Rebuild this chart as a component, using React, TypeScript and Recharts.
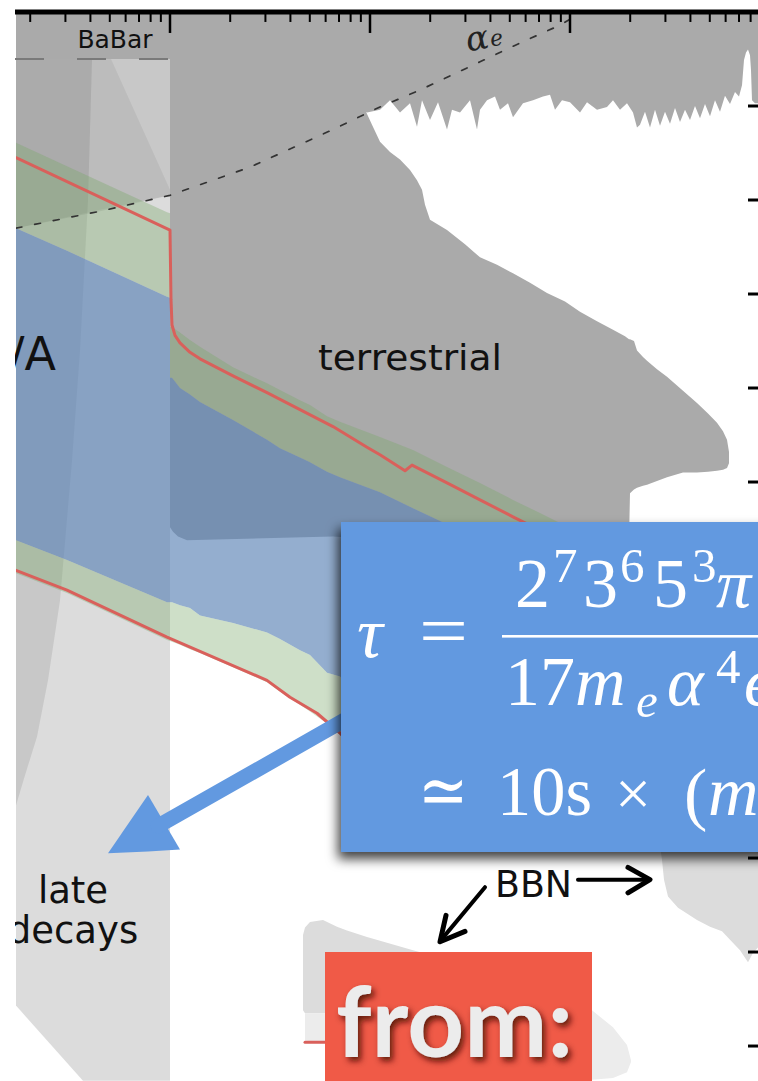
import React from "react";
import { ComposedChart, XAxis, YAxis, Area, Line, ReferenceLine } from "recharts";

// x = log10(m / keV), y = log10(eps)
const X_DOMAIN: [number, number] = [0.23, 3.95];
const Y_DOMAIN: [number, number] = [-18.372, -7];

const X_DECADES = [0, 1, 2, 3];
const X_MINOR_DIGITS = [2, 3, 4, 5, 6, 7, 8, 9];
const Y_TICKS = [-8, -9, -10, -11, -12, -13, -14, -15, -16, -17, -18];

// terrestrial limits: upper band, lower edge [x, y]
const TERR_EDGE: [number, number][] = [
  [0.23, -7.5], [1.0, -7.5], [1.95, -8.04], [1.985, -8.07], [2.05, -8.04], [2.1, -7.94],
  [2.15, -8.07], [2.2, -7.97], [2.235, -8.22], [2.26, -7.94], [2.3, -8.15], [2.34, -7.96],
  [2.385, -8.25], [2.41, -8.04], [2.45, -8.07], [2.5, -7.94], [2.535, -8.25], [2.55, -8.04],
  [2.585, -7.94], [2.625, -7.9], [2.65, -8.04], [2.69, -7.97], [2.715, -8.12], [2.765, -7.97],
  [2.815, -7.94], [2.865, -7.9], [2.9, -7.88], [2.925, -8.04], [2.96, -7.94], [3.0, -7.96],
  [3.05, -8.07], [3.085, -7.96], [3.135, -8.04], [3.185, -8.01], [3.215, -7.94], [3.25, -8.04],
  [3.285, -7.97], [3.315, -8.07], [3.335, -8.23], [3.35, -8.2], [3.375, -8.06], [3.4, -8.23],
  [3.425, -8.04], [3.45, -8.21], [3.475, -8.06], [3.5, -8.19], [3.525, -8.02], [3.55, -8.17],
  [3.575, -8.04], [3.6, -8.15], [3.625, -8.0], [3.65, -8.13], [3.675, -7.98], [3.7, -8.11],
  [3.725, -7.94], [3.75, -8.06], [3.775, -7.89], [3.8, -7.98], [3.825, -7.85], [3.845, -7.9],
  [3.86, -7.78], [3.87, -7.51], [3.88, -7.43], [3.89, -7.4], [3.9, -7.46], [3.905, -7.62],
  [3.91, -7.94], [3.925, -7.97], [3.95, -7.97],
];

// terrestrial limits: main blob [x, top, bottom]
const TERR_BLOB: number[][] = [
  [1.0, -7, -12.48], [1.015, -7, -12.53], [1.04, -7, -12.58], [1.085, -7, -12.62],
  [1.815, -7, -12.58], [1.98, -7, -12.6], [1.98, -8.06, -12.6], [2.01, -8.2, -12.6],
  [2.05, -8.38, -12.61], [2.1, -8.49, -12.61], [2.15, -8.57, -12.62], [2.2, -8.68, -12.62],
  [2.235, -8.79, -12.62], [2.26, -8.89, -12.62], [2.275, -9.05, -12.62], [2.3, -9.21, -12.62],
  [2.385, -9.32, -12.62], [2.475, -9.47, -12.62], [2.55, -9.61, -12.62], [2.635, -9.69, -12.62],
  [2.715, -9.78, -12.62], [2.8, -9.88, -12.62], [2.885, -9.99, -12.62], [2.975, -10.08, -12.62],
  [3.05, -10.19, -12.62], [3.135, -10.29, -12.62], [3.215, -10.38, -12.62], [3.275, -10.45, -12.62],
  [3.295, -10.48, -12.62], [3.3, -10.48, -12.12], [3.32, -10.5, -12.08], [3.335, -10.6, -12.06],
  [3.365, -10.67, -12.04], [3.385, -10.71, -12.03], [3.435, -10.8, -11.99], [3.485, -10.88, -11.95],
  [3.565, -11.03, -11.9], [3.635, -11.16, -11.9], [3.69, -11.27, -11.89], [3.735, -11.37, -11.88],
  [3.765, -11.46, -11.87], [3.785, -11.55, -11.85], [3.795, -11.68, -11.8],
];

// late decays / cooling regions on the left [x, top, bottom]
const LATE_DECAY: number[][] = [[0.23, -7, -17.57], [0.565, -7, -18.37], [1.0, -7, -18.37]];
const LATE_DECAY_INNER: number[][] = [
  [0.23, -7.5, -15.44], [0.275, -7.5, -15.12], [0.335, -7.5, -14.71], [0.39, -7.5, -14.11],
  [0.45, -7.5, -13.26], [0.51, -7.5, -11.77], [0.55, -7.5, -10.6], [0.59, -7.5, -9.0],
  [0.6, -7.5, -8.25], [0.61, -7.5, -7.5],
];
const AE_SHADE: number[][] = [[0.23, -7.5, -9.3], [0.65, -7.5, -9.12], [1.0, -7.5, -8.95]];
const AE_SHADE_2: number[][] = [[0.23, -7.5, -9.3], [0.705, -7.5, -9.08], [1.0, -8.89, -8.95]];

// stellar/relic contours [x, greenTop, blueTop, blueBottom, greenBottom]
const CONTOUR: number[][] = [
  [0.23, -8.39, -9.3, -12.62, -12.97],
  [0.485, -8.64, -9.54, -12.83, -13.18],
  [0.985, -9.13, -10.03, -13.28, -13.68],
  [1.0, -9.14, -10.04, -13.28, -13.69],
  [1.0, -10.35, -10.89, -13.28, -13.69],
  [1.01, -10.35, -10.89, -13.28, -13.7],
  [1.05, -10.41, -11.0, -13.31, -13.73],
  [1.1, -10.49, -11.07, -13.34, -13.78],
  [1.15, -10.56, -11.15, -13.42, -13.82],
  [1.315, -10.78, -11.34, -13.5, -13.97],
  [1.485, -10.95, -11.55, -13.6, -14.13],
  [1.55, -11.02, -11.64, -13.67, -14.23],
  [1.65, -11.13, -11.74, -13.79, -14.37],
  [1.7, -11.18, -11.79, -13.84, -14.44],
  [1.785, -11.3, -11.89, -14.03, -14.57],
  [1.85, -11.36, -11.95, -14.07, -14.69],
  [2.05, -11.52, -12.11, -14.53, -15.17],
  [2.215, -11.66, -12.28, -14.85, -15.49],
  [2.385, -11.84, -12.45, -15.17, -15.81],
];
const CONTOUR_TAIL: number[][] = [
  [2.55, -12.01, -12.62], [2.715, -12.19, -12.78], [2.85, -12.33, -12.94], [3.0, -12.49, -13.1],
];

const RED_UPPER: [number, number][] = [
  [0.23, -8.55], [1.0, -9.32], [1.005, -10.06], [1.01, -10.33], [1.025, -10.44], [1.05, -10.52],
  [1.1, -10.62], [1.15, -10.69], [1.315, -10.87], [1.485, -11.05], [1.65, -11.23], [1.815, -11.41],
  [1.985, -11.63], [2.05, -11.71], [2.175, -11.88], [2.21, -11.82], [2.385, -12.01], [2.55, -12.19],
  [2.715, -12.37], [2.875, -12.54],
];
const RED_LOWER: [number, number][] = [
  [0.23, -12.94], [0.485, -13.15], [0.985, -13.65], [1.485, -14.11], [1.6, -14.29],
  [1.735, -14.46], [1.85, -14.67], [2.05, -15.12],
];
const RED_STUB: [number, number][] = [[1.675, -17.96], [1.825, -17.96]];

const ALPHA_E: [number, number][] = [
  [0.23, -9.3], [0.65, -9.12], [1.0, -8.95], [1.4, -8.65], [1.815, -8.25], [2.05, -8.01],
  [2.25, -7.83], [2.55, -7.53], [2.75, -7.33], [2.95, -7.14], [3.06, -7.0],
];

// BBN regions [x, top, bottom]
const BBN_RIGHT: number[][] = [
  [3.45, -15.86, -15.87], [3.46, -15.86, -16.02], [3.47, -15.86, -16.23], [3.49, -15.86, -16.41],
  [3.54, -15.86, -16.53], [3.635, -15.86, -16.66], [3.7, -15.86, -16.73], [3.76, -15.86, -16.78],
  [3.8, -15.86, -16.87], [3.85, -15.86, -16.98], [3.89, -15.86, -17.11], [3.915, -15.86, -17.01],
  [3.95, -15.86, -16.93],
];
const BBN_LOW: number[][] = [
  [1.665, -16.82, -17.62], [1.675, -16.74, -17.65], [1.7, -16.68, -17.65], [1.765, -16.66, -17.65],
  [1.835, -16.73, -17.65], [1.885, -16.77, -17.65], [1.985, -16.84, -17.65], [2.085, -16.9, -17.65],
  [2.215, -16.98, -17.65], [2.4, -17.09, -17.65], [3.1, -17.51, -17.65],
];
const BBN_LOW_FAINT: number[][] = [
  [1.675, -17.65, -17.94], [1.85, -17.65, -17.99], [2.95, -17.62, -18.34], [3.11, -17.62, -18.36],
  [3.215, -17.8, -18.34], [3.285, -17.99, -18.28], [3.305, -18.15, -18.17],
];

// annotation arrows
const TAU_ARROW: [number, number][] = [[1.875, -14.53], [0.94, -15.66]];
const TAU_HEAD: number[][] = [[0.69, -15.95, -15.95], [0.89, -15.33, -15.93], [1.05, -15.91, -15.91]];
const BBN_ARROW_R: [number, number][] = [[3.04, -16.23], [3.38, -16.23]];
const BBN_HEAD_R: [number, number][] = [[3.29, -16.1], [3.4, -16.23], [3.29, -16.37]];
const BBN_ARROW_L: [number, number][] = [[2.575, -16.31], [2.36, -16.86]];
const BBN_HEAD_L: [number, number][] = [[2.38, -16.61], [2.35, -16.89], [2.475, -16.78]];

const band = (rows: number[][], a: number, b: number) =>
  rows.map((r) => ({ x: r[0], r: [r[a], r[b]] }));
const pts = (rows: number[][]) => rows.map(([x, y]) => ({ x, y }));

const GRAY = "#aaaaaa";
const LIGHT = "#dcdcdc";
const GREEN = "rgba(123,167,107,0.37)";
const BLUE = "rgba(90,130,182,0.65)";
const RED = "#d9605b";
const ARROW_BLUE = "#6299e0";

const fillArea = (rows: number[][], a: number, b: number, fill: string) => (
  <Area
    data={band(rows, a, b)}
    dataKey="r"
    type="linear"
    stroke="none"
    fill={fill}
    fillOpacity={1}
    isAnimationActive={false}
    activeDot={false}
  />
);

const line = (rows: [number, number][], stroke: string, width: number, dash?: string) => (
  <Line
    data={pts(rows)}
    dataKey="y"
    type="linear"
    stroke={stroke}
    strokeWidth={width}
    strokeDasharray={dash}
    strokeLinecap="round"
    strokeLinejoin="round"
    dot={false}
    activeDot={false}
    isAnimationActive={false}
  />
);

const minorTicks = X_DECADES.flatMap((d) => X_MINOR_DIGITS.map((k) => d + Math.log10(k))).filter(
  (v) => v > X_DOMAIN[0] && v < X_DOMAIN[1]
);

export default function App() {
  return (
    <div style={{ position: "absolute", left: 0, top: 0, width: 758, height: 1081, overflow: "hidden", background: "#fff" }}>
      <ComposedChart width={760} height={1081} margin={{ top: 12, right: 0, bottom: 0, left: 16 }}>
        <XAxis type="number" dataKey="x" domain={X_DOMAIN} hide allowDataOverflow />
        <YAxis type="number" domain={Y_DOMAIN} hide allowDataOverflow />

        {fillArea(LATE_DECAY, 1, 2, LIGHT)}
        {fillArea(LATE_DECAY_INNER, 1, 2, "rgba(0,0,0,0.09)")}
        {fillArea(AE_SHADE, 1, 2, "rgba(0,0,0,0.09)")}
        {fillArea(AE_SHADE_2, 1, 2, "rgba(0,0,0,0.06)")}

        <Area
          data={TERR_EDGE.map(([x, y]) => ({ x, r: [-7, y] }))}
          dataKey="r"
          type="linear"
          stroke="none"
          fill={GRAY}
          fillOpacity={1}
          isAnimationActive={false}
          activeDot={false}
        />
        {fillArea(TERR_BLOB, 1, 2, GRAY)}

        {fillArea(BBN_LOW, 1, 2, LIGHT)}
        {fillArea(BBN_LOW_FAINT, 1, 2, "#ececec")}
        {fillArea(BBN_RIGHT, 1, 2, LIGHT)}

        {fillArea([...CONTOUR, ...CONTOUR_TAIL], 1, 2, GREEN)}
        {fillArea(CONTOUR, 2, 3, BLUE)}
        {fillArea(CONTOUR, 3, 4, GREEN)}

        <ReferenceLine
          segment={[{ x: 0.225, y: -7.5 }, { x: 1.0, y: -7.5 }]}
          stroke="#7a7a7a"
          strokeWidth={2}
          strokeDasharray="29 33"
          ifOverflow="visible"
        />
        {line(ALPHA_E, "#333", 1.7, "6 13")}

        {line(RED_UPPER, RED, 3)}
        {line(RED_LOWER, RED, 3)}
        {line(RED_STUB, RED, 3)}

        {line(TAU_ARROW, ARROW_BLUE, 15)}
        {fillArea(TAU_HEAD, 1, 2, ARROW_BLUE)}
        {line(BBN_ARROW_R, "#000", 4)}
        {line(BBN_HEAD_R, "#000", 5)}
        {line(BBN_ARROW_L, "#000", 4)}
        {line(BBN_HEAD_L, "#000", 5)}

        <ReferenceLine
          segment={[{ x: 0.225, y: -7 }, { x: 3.95, y: -7 }]}
          stroke="#000"
          strokeWidth={5}
          ifOverflow="visible"
        />
        {minorTicks.map((v) => (
          <ReferenceLine
            key={`mi${v}`}
            segment={[{ x: v, y: -7 }, { x: v, y: -7.106 }]}
            stroke="#000"
            strokeWidth={2}
            ifOverflow="visible"
          />
        ))}
        {X_DECADES.filter((d) => d > X_DOMAIN[0]).map((d) => (
          <ReferenceLine
            key={`ma${d}`}
            segment={[{ x: d, y: -7 }, { x: d, y: -7.223 }]}
            stroke="#000"
            strokeWidth={2.5}
            ifOverflow="visible"
          />
        ))}
        {Y_TICKS.map((t) => (
          <ReferenceLine
            key={`y${t}`}
            segment={[{ x: 3.89, y: t }, { x: 3.95, y: t }]}
            stroke="#000"
            strokeWidth={3}
            ifOverflow="visible"
          />
        ))}
      </ComposedChart>

      <svg width={760} height={1081} style={{ position: "absolute", left: 0, top: 0, pointerEvents: "none" }}>
        <defs>
          <filter id="boxShadow" x="-20%" y="-20%" width="140%" height="140%">
            <feDropShadow dx="-3" dy="7" stdDeviation="6" floodColor="#000" floodOpacity="0.75" />
          </filter>
          <filter id="textShadow" x="-10%" y="-20%" width="130%" height="150%">
            <feDropShadow dx="3" dy="4" stdDeviation="3" floodColor="#4a0d05" floodOpacity="0.85" />
          </filter>
        </defs>

        <g fontFamily="'DejaVu Sans', sans-serif" fill="#111">
          <text x={115} y={48} fontSize={25} textAnchor="middle">BaBar</text>
          <text x={318} y={370} fontSize={36} textLength={184} lengthAdjust="spacingAndGlyphs">terrestrial</text>
          <text x={9} y={370} fontSize={46}>/A</text>
          <text x={73} y={903} fontSize={37} textAnchor="middle">late</text>
          <text x={73} y={943} fontSize={37} textAnchor="middle">decays</text>
          <text x={495} y={897} fontSize={38} textLength={77} lengthAdjust="spacingAndGlyphs">BBN</text>
        </g>
        <g fontFamily="'DejaVu Serif', serif" fontStyle="italic" fill="#222" transform="rotate(-10 487 40)">
          <text x={466} y={48} fontSize={34}>α<tspan fontSize={22} dx={1} dy={-1}>e</tspan></text>
        </g>

        <rect x={0} y={0} width={15} height={1081} fill="#fff" />

        <rect x={341} y={522} width={440} height={330} fill={ARROW_BLUE} filter="url(#boxShadow)" />
        <g fill="#fff" fontFamily="'Liberation Serif', 'DejaVu Serif', serif">
          <text x={357} y={657} fontSize={72} fontStyle="italic">τ</text>
          <text x={419} y={655} fontSize={72} textLength={49} lengthAdjust="spacingAndGlyphs">=</text>
          <text y={607} fontSize={70}>
            <tspan x={515}>2</tspan>
            <tspan x={553} y={582} fontSize={49}>7</tspan>
            <tspan x={583} y={607}>3</tspan>
            <tspan x={620} y={582} fontSize={49}>6</tspan>
            <tspan x={653} y={607}>5</tspan>
            <tspan x={692} y={582} fontSize={49}>3</tspan>
            <tspan x={716} y={607} fontStyle="italic">π</tspan>
          </text>
          <rect x={502} y={635} width={270} height={2.6} />
          <text y={705} fontSize={70}>
            <tspan x={505}>17</tspan>
            <tspan x={575} fontStyle="italic">m</tspan>
            <tspan x={636} y={717} fontSize={49} fontStyle="italic">e</tspan>
            <tspan x={667} y={705} fontStyle="italic">α</tspan>
            <tspan x={716} y={683} fontSize={49}>4</tspan>
            <tspan x={744} y={705} fontStyle="italic">ϵ</tspan>
          </text>
          <text x={418} y={815} fontSize={72} textLength={50} lengthAdjust="spacingAndGlyphs">≃</text>
          <text x={497} y={815} fontSize={70} textLength={95} lengthAdjust="spacingAndGlyphs">10s</text>
          <text x={615} y={815} fontSize={64}>×</text>
          <text x={684} y={817} fontSize={70}>(</text>
          <text x={708} y={815} fontSize={70} fontStyle="italic">m</text>
        </g>

        <rect x={325} y={952} width={267} height={135} fill="#f05a47" />
        <text
          x={336}
          y={1057}
          fontFamily="Lato, 'Open Sans', sans-serif"
          fontWeight={700}
          fontSize={97}
          fill="#ececec"
          textLength={237}
          lengthAdjust="spacingAndGlyphs"
          filter="url(#textShadow)"
        >
          from:
        </text>
      </svg>
    </div>
  );
}
